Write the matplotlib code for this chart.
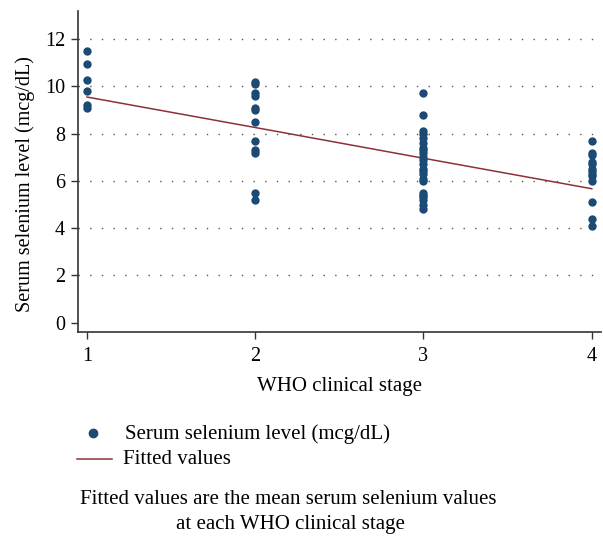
import matplotlib
matplotlib.use("Agg")
import matplotlib.pyplot as plt
from matplotlib.lines import Line2D

plt.rcParams['font.family'] = ['Liberation Serif', 'DejaVu Serif']

# Data
stages = [1, 2, 3, 4]
stage1 = [11.5, 10.95, 10.25, 9.8, 9.2, 9.1]
stage2 = [10.2, 10.1, 9.7, 9.6, 9.1, 9.0, 8.5, 7.7, 7.3, 7.2, 5.5, 5.2]
stage3 = [9.7, 8.8, 8.1, 8.0, 7.8, 7.6, 7.4, 7.3, 7.2, 7.0, 6.9, 6.7, 6.5,
          6.4, 6.3, 6.1, 6.0, 5.5, 5.4, 5.3, 5.2, 5.0, 4.8]
stage4 = [7.7, 7.2, 7.1, 6.8, 6.7, 6.5, 6.4, 6.3, 6.2, 6.0, 5.1, 4.4, 4.1]
fitted = [9.55, 8.26, 6.96, 5.67]
yticks = [0, 2, 4, 6, 8, 10, 12]
xticks = [1, 2, 3, 4]

point_color = '#1b4a74'
line_color = '#8e3038'
FS = 15

fig = plt.figure(figsize=(6.03, 5.37), dpi=100)
ax = fig.add_axes([0.1289, 0.3823, 0.8678, 0.5972])

groups = [stage1, stage2, stage3, stage4]
for s, vals in zip(stages, groups):
    ax.scatter([s] * len(vals), vals, s=36, color=point_color, zorder=3,
               linewidths=0)
ax.plot(stages, fitted, color=line_color, lw=1.1, zorder=2)

ax.set_xlim(0.945, 4.055)
ax.set_ylim(-0.38, 13.19)
ax.set_xticks(xticks)
ax.set_yticks(yticks)
ax.set_xticklabels([str(v) for v in xticks])
ax.set_yticklabels([str(v) for v in yticks])
ax.tick_params(labelsize=14.5, length=5, width=1, color='#333333')
ax.tick_params(axis='x', pad=6)
ax.tick_params(axis='y', pad=4)
for sp in ['top', 'right']:
    ax.spines[sp].set_visible(False)
for sp in ['left', 'bottom']:
    ax.spines[sp].set_linewidth(1.2)
    ax.spines[sp].set_color('#333333')

for y in yticks[1:]:
    ax.axhline(y, color='#555555', lw=1.0, linestyle=(0, (1, 7.4)), zorder=1)

ax.set_xlabel('WHO clinical stage', fontsize=FS, labelpad=8)
ax.set_ylabel('Serum selenium level (mcg/dL)', fontsize=14.5)
ax.yaxis.set_label_coords(-0.082, 0.46)

# Legend drawn in figure coordinates
W, H = 603, 537
fig.add_artist(Line2D([93 / W], [1 - 433 / H], marker='o', markersize=6,
                      color=point_color, linestyle='none', transform=fig.transFigure))
fig.text(125 / W, 1 - 434 / H, 'Serum selenium level (mcg/dL)', fontsize=FS,
         va='center', ha='left')
fig.add_artist(Line2D([77 / W, 112 / W], [1 - 459 / H, 1 - 459 / H], lw=1.1,
                      color=line_color, transform=fig.transFigure))
fig.text(123 / W, 1 - 460 / H, 'Fitted values', fontsize=FS,
         va='center', ha='left')

fig.text(288 / W, 1 - 500 / H, 'Fitted values are the mean serum selenium values',
         fontsize=FS, ha='center', va='center')
fig.text(290 / W, 1 - 525 / H, 'at each WHO clinical stage',
         fontsize=FS, ha='center', va='center')

fig.savefig('out.png', dpi=100)
